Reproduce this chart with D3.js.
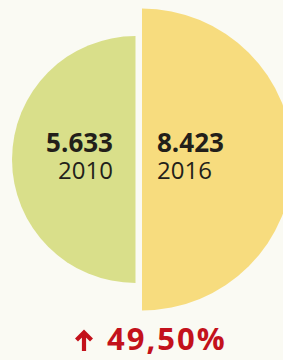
<!DOCTYPE html>
<html>
<head>
<meta charset="utf-8">
<script src="https://cdn.jsdelivr.net/npm/d3@7"></script>
<style>
  html, body { margin: 0; padding: 0; background: #fafaf3; }
  svg { display: block; }
</style>
</head>
<body>
<svg id="chart" width="283" height="360"></svg>
<script>
const years = ["2010", "2016"];
const values = [5.633, 8.423];
const valueLabels = ["5.633", "8.423"];
const colors = ["#d9df8a", "#f7dc7e"];
const changeLabel = "49,50%";

const svg = d3.select("#chart");
const W = 283, H = 360;
svg.append("rect").attr("width", W).attr("height", H).attr("fill", "#fafaf3");

const r = d3.scaleSqrt().domain([0, d3.max(values)]).range([0, 151]);
const cy = 159.5;
const cxs = [135.5, 142];
const angles = [[-Math.PI, 0], [0, Math.PI]];

const arc = d3.arc().innerRadius(0);

values.forEach((v, i) => {
  svg.append("path")
    .attr("transform", `translate(${cxs[i]},${cy})`)
    .attr("d", arc({outerRadius: r(v), startAngle: angles[i][0], endAngle: angles[i][1]}))
    .attr("fill", colors[i]);
});

const font = "'Open Sans', 'Noto Sans', sans-serif";
const tx = [113, 157];
const anchors = ["end", "start"];
values.forEach((v, i) => {
  const t = svg.append("text")
    .attr("text-anchor", anchors[i])
    .attr("font-family", font).attr("fill", "#231f1a");
  t.append("tspan")
    .attr("x", tx[i]).attr("y", 152)
    .attr("font-weight", 700).attr("font-size", 26)
    .text(valueLabels[i]);
  t.append("tspan")
    .attr("x", tx[i]).attr("y", 179)
    .attr("font-weight", 400).attr("font-size", 24)
    .text(years[i]);
});

// change indicator: arrow drawn as a path
const red = "#c3111b";
const arrow = d3.path();
arrow.moveTo(84, 351); arrow.lineTo(84, 332.5);
arrow.moveTo(76.5, 340); arrow.lineTo(84, 332.5); arrow.lineTo(91.5, 340);
svg.append("path")
  .attr("d", arrow.toString())
  .attr("fill", "none").attr("stroke", red)
  .attr("stroke-width", 4.2).attr("stroke-linejoin", "miter").attr("stroke-linecap", "butt");
svg.append("text")
  .attr("x", 107).attr("y", 350)
  .attr("text-anchor", "start")
  .attr("font-family", font).attr("font-weight", 700)
  .attr("font-size", 31).attr("letter-spacing", 2)
  .attr("fill", red)
  .text(changeLabel);
</script>
</body>
</html>
